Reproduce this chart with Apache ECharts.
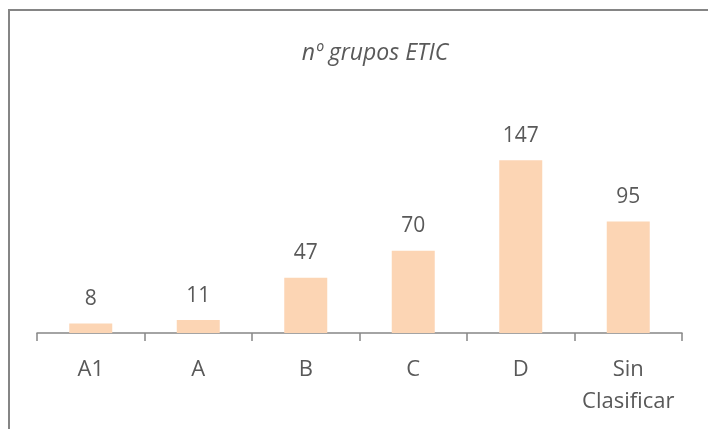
<!DOCTYPE html>
<html>
<head>
<meta charset="utf-8">
<script src="https://cdn.jsdelivr.net/npm/echarts@6/dist/echarts.min.js"></script>
<style>
  html, body { margin: 0; padding: 0; background: #fff; }
  #chart { width: 708px; height: 429px; }
</style>
</head>
<body>
<div id="chart"></div>
<script>
// Number of ETIC groups per classification
const categories = ['A1', 'A', 'B', 'C', 'D', 'Sin\nClasificar'];
const groupCounts = [8, 11, 47, 70, 147, 95];
const titleText = 'nº grupos ETIC';

const FONT = '"Open Sans", sans-serif';
const TEXT_COLOR = '#595959';

const chart = echarts.init(document.getElementById('chart'), null, { renderer: 'canvas' });

chart.setOption({
  animation: false,
  backgroundColor: '#ffffff',
  title: {
    text: titleText,
    left: 370,
    textAlign: 'center',
    top: 37,
    textStyle: {
      fontFamily: FONT,
      fontStyle: 'italic',
      fontWeight: 'normal',
      fontSize: 23,
      color: TEXT_COLOR
    }
  },
  graphic: [{
    type: 'rect',
    shape: { x: 9, y: 10, width: 900, height: 600 },
    style: { fill: 'none', stroke: '#858585', lineWidth: 2 },
    silent: true
  }],
  grid: {
    left: 37,
    right: 26,
    top: 145,
    bottom: 96,
    containLabel: false
  },
  xAxis: {
    type: 'category',
    data: categories,
    axisLine: { show: true, lineStyle: { color: '#878787', width: 1.5 } },
    axisTick: { show: true, length: 8, interval: 0, alignWithLabel: false, lineStyle: { color: '#878787', width: 1.5 } },
    axisLabel: {
      interval: 0,
      margin: 21,
      fontFamily: FONT,
      fontSize: 22,
      lineHeight: 32,
      color: TEXT_COLOR
    }
  },
  yAxis: {
    type: 'value',
    min: 0,
    max: 160,
    show: false,
    splitLine: { show: false }
  },
  series: [{
    type: 'bar',
    data: groupCounts,
    barWidth: '40%',
    itemStyle: { color: '#FCD5B4' },
    label: {
      show: true,
      position: 'top',
      distance: 14,
      fontFamily: FONT,
      fontSize: 21,
      color: TEXT_COLOR
    }
  }]
});
</script>
</body>
</html>
